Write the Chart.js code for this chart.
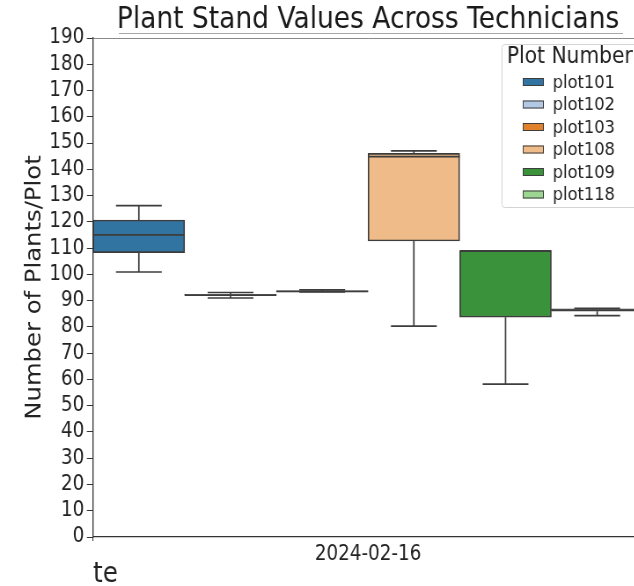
<!DOCTYPE html>
<html>
<head>
<meta charset="utf-8">
<script src="https://cdn.jsdelivr.net/npm/chart.js@4.4.1/dist/chart.umd.min.js"></script>
<style>
  html, body { margin: 0; padding: 0; background: #fff; overflow: hidden; }
</style>
</head>
<body>
<!-- drawn wide and shown a bit narrower, like the squeezed screenshot -->
<canvas id="chart" width="750" height="586" style="display:block;width:660px;height:586px"></canvas>
<script>
// data
const dates = ['2024-02-16'];
const plots = ['plot101', 'plot102', 'plot103', 'plot108', 'plot109', 'plot118'];
const whiskerLow = [100.9, 91.0, 93.3, 80.3, 58.2, 84.3];
const q1 = [108.3, 91.9, 93.3, 112.7, 83.7, 86.0];
const median = [115.0, 92.1, 93.5, 144.8, 109.0, 86.4];
const q3 = [120.7, 92.4, 93.7, 146.1, 109.0, 86.9];
const whiskerHigh = [126.2, 93.1, 94.1, 147.0, 109.0, 87.1];
const yMin = 0;
const yMax = 190;
const yStep = 10;

const boxColors = ['#3274a1', '#b3c8e3', '#e1812c', '#eebb89', '#3a923a', '#9cd692'];
const lineGray = '#3d3d3d';
const textColor = '#222222';
const fontFamily = '"DejaVu Sans", sans-serif';

// whiskers, caps and medians on top of the floating bars
const boxParts = {
    id: 'boxParts',
    afterDatasetsDraw(chart) {
        const { ctx } = chart;
        const y = chart.scales.y;
        ctx.save();
        ctx.strokeStyle = lineGray;
        ctx.lineWidth = 1.7;
        chart.data.datasets.forEach((ds, i) => {
            const bar = chart.getDatasetMeta(i).data[0];
            const x = bar.x;
            const half = bar.width / 2;
            const line = (x1, y1, x2, y2) => {
                ctx.beginPath();
                ctx.moveTo(x1, y1);
                ctx.lineTo(x2, y2);
                ctx.stroke();
            };
            const yLow = y.getPixelForValue(whiskerLow[i]);
            const yHigh = y.getPixelForValue(whiskerHigh[i]);
            line(x, y.getPixelForValue(q1[i]), x, yLow);
            line(x, y.getPixelForValue(q3[i]), x, yHigh);
            line(x - half / 2, yLow, x + half / 2, yLow);
            line(x - half / 2, yHigh, x + half / 2, yHigh);
            const yMed = y.getPixelForValue(median[i]);
            line(x - half, yMed, x + half, yMed);
        });
        ctx.restore();
    }
};

// top spine, the faint rule under the title, and the boxed legend
const frame = {
    id: 'frame',
    afterDraw(chart) {
        const { ctx, chartArea } = chart;
        ctx.save();
        ctx.strokeStyle = '#8a8a8a';
        ctx.lineWidth = 1;
        ctx.beginPath();
        ctx.moveTo(chartArea.left, chartArea.top + 0.5);
        ctx.lineTo(chartArea.right, chartArea.top + 0.5);
        ctx.stroke();
        ctx.strokeStyle = '#a8a8a8';
        ctx.beginPath();
        ctx.moveTo(135, 33.5);
        ctx.lineTo(708, 33.5);
        ctx.stroke();

        // legend
        const lx = 570, ly = 44, lw = 154, lh = 163;
        ctx.fillStyle = 'rgba(255,255,255,0.85)';
        ctx.strokeStyle = '#d4d4d4';
        ctx.beginPath();
        ctx.roundRect(lx + 0.5, ly + 0.5, lw, lh, 3);
        ctx.fill();
        ctx.stroke();

        ctx.fillStyle = textColor;
        ctx.textBaseline = 'middle';
        ctx.textAlign = 'left';
        ctx.font = '23px ' + fontFamily;
        ctx.fillText('Plot Number', lx + 6, 57);

        ctx.font = '18.5px ' + fontFamily;
        chart.data.datasets.forEach((ds, i) => {
            const cy = 82 + i * 22.5;
            ctx.fillStyle = ds.backgroundColor;
            ctx.fillRect(lx + 24, cy - 4, 24, 8);
            ctx.strokeStyle = lineGray;
            ctx.lineWidth = 1;
            ctx.strokeRect(lx + 24.5, cy - 3.5, 23, 7);
            ctx.fillStyle = textColor;
            ctx.fillText(ds.label, lx + 58, cy + 1);
        });
        ctx.restore();
    }
};

const datasets = plots.map((p, i) => ({
    label: p,
    data: [[q1[i], q3[i]]],
    backgroundColor: boxColors[i],
    borderColor: lineGray,
    borderWidth: 1.7,
    borderSkipped: false,
    categoryPercentage: 1,
    barPercentage: 1
}));

new Chart(document.getElementById('chart'), {
    type: 'bar',
    data: { labels: dates, datasets: datasets },
    options: {
        responsive: false,
        maintainAspectRatio: false,
        devicePixelRatio: 1,
        animation: false,
        layout: { padding: { left: 0, right: 19.3, top: 0, bottom: 0 } },
        plugins: {
            legend: { display: false },
            tooltip: { enabled: false },
            title: {
                display: true,
                text: 'Plant Stand Values Across Technicians',
                fullSize: false,
                color: '#1a1a1a',
                font: { family: fontFamily, size: 30.1, weight: 'normal', lineHeight: 1 },
                padding: { top: 5.3, bottom: 2.6 }
            }
        },
        scales: {
            x: {
                offset: true,
                grid: { display: true, drawOnChartArea: false, drawTicks: true, tickLength: 4, color: '#333', tickWidth: 1 },
                border: { display: true, color: '#333', width: 1.3 },
                ticks: { color: textColor, padding: 1, font: { family: fontFamily, size: 20.8 } },
                title: {
                    display: true,
                    text: 'te',
                    align: 'start',
                    color: textColor,
                    font: { family: fontFamily, size: 28, lineHeight: 0.8 },
                    padding: 0
                },
                afterFit(scale) { scale.height = 49; }
            },
            y: {
                min: yMin,
                max: yMax,
                grid: { display: true, drawOnChartArea: false, drawTicks: true, tickLength: 7, color: '#333', tickWidth: 1 },
                border: { display: true, color: '#333', width: 1.3 },
                ticks: {
                    stepSize: yStep,
                    autoSkip: false,
                    color: textColor,
                    padding: 3,
                    font: { family: fontFamily, size: 20.8, lineHeight: 1 }
                },
                title: {
                    display: true,
                    text: 'Number of Plants/Plot',
                    color: textColor,
                    font: { family: fontFamily, size: 24.3, lineHeight: 1.2 },
                    padding: { top: 25.4 }
                },
                afterFit(scale) { scale.width = 105.7; }
            }
        }
    },
    plugins: [boxParts, frame]
});
</script>
</body>
</html>
